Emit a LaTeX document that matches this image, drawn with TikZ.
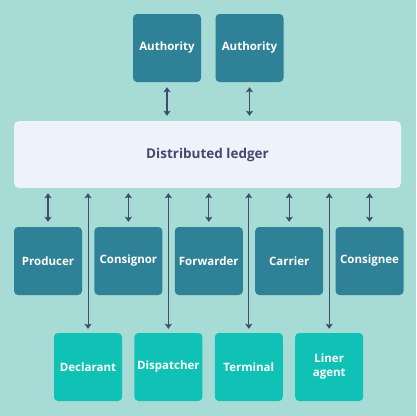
\documentclass[tikz,border=0pt]{standalone}
\usepackage{fontspec}
\setmainfont{Open Sans}
\usetikzlibrary{arrows.meta,positioning}

\definecolor{bgteal}{HTML}{A6DBD6}
\definecolor{darkbox}{HTML}{2E8196}
\definecolor{brightbox}{HTML}{10C2B5}
\definecolor{ledgerfill}{HTML}{EEF2FB}
\definecolor{arrowcol}{HTML}{414B6B}

\begin{document}
\begin{tikzpicture}[
    x=1pt, y=-1pt,
    partyblock/.style={
        rectangle,
        fill=darkbox,
        text=white,
        font=\bfseries\fontsize{11.5}{14}\selectfont,
        minimum width=68pt,
        minimum height=68pt,
        inner sep=0pt,
        align=center,
        rounded corners=4pt
    },
    agentblock/.style={
        partyblock,
        fill=brightbox
    },
    ledgerblock/.style={
        rectangle,
        fill=ledgerfill,
        text=arrowcol,
        font=\bfseries\fontsize{13.5}{16}\selectfont,
        minimum width=387pt,
        minimum height=67pt,
        inner sep=0pt,
        rounded corners=5pt
    },
    link/.style={draw=arrowcol, line width=1.2pt,
        {Stealth[length=5pt,width=7pt,inset=1pt]}-{Stealth[length=5pt,width=7pt,inset=1pt]},
        shorten <=5pt, shorten >=5pt},
    feed/.style={link, line width=1pt, shorten >=4pt}
]

% Background
\fill[bgteal] (0,0) rectangle (416,416);

% Ledger
\node [ledgerblock] (ledger) at (207.5,154.5) {Distributed ledger};

% Authorities
\node [partyblock] (auth1) at (167,48) {Authority};
\node [partyblock] (auth2) at (249.5,48) {Authority};

% Parties row
\node [partyblock] (producer) at (48,261) {Producer};
\node [partyblock, right=12pt of producer] (consignor) {Consignor};
\node [partyblock, right=12pt of consignor] (forwarder) {Forwarder};
\node [partyblock, right=12pt of forwarder] (carrier) {Carrier};
\node [partyblock, right=12pt of carrier] (consignee) {Consignee};

% Agents row
\node [agentblock] (declarant) at (88,367) {Declarant};
\node [agentblock, right=12pt of declarant] (dispatcher) {Dispatcher};
\node [agentblock, right=12pt of dispatcher] (terminal) {Terminal};
\node [agentblock, right=12pt of terminal] (liner) {Liner\\agent};

% Authority links
\draw [link] (auth1) -- (auth1 |- ledger.north);
\draw [link] (auth2) -- (auth2 |- ledger.north);

% Party links
\draw [link] (ledger.south -| producer) -- (producer);
\draw [link] (ledger.south -| consignor) -- (consignor);
\draw [link] (ledger.south -| forwarder) -- (forwarder);
\draw [link] (ledger.south -| carrier) -- (carrier);
\draw [link] (ledger.south -| consignee) -- (consignee);

% Agent links
\draw [feed] (ledger.south -| declarant) -- (declarant);
\draw [feed] (ledger.south -| dispatcher) -- (dispatcher);
\draw [feed] (ledger.south -| terminal) -- (terminal);
\draw [feed] (ledger.south -| liner) -- (liner);

\end{tikzpicture}
\end{document}
